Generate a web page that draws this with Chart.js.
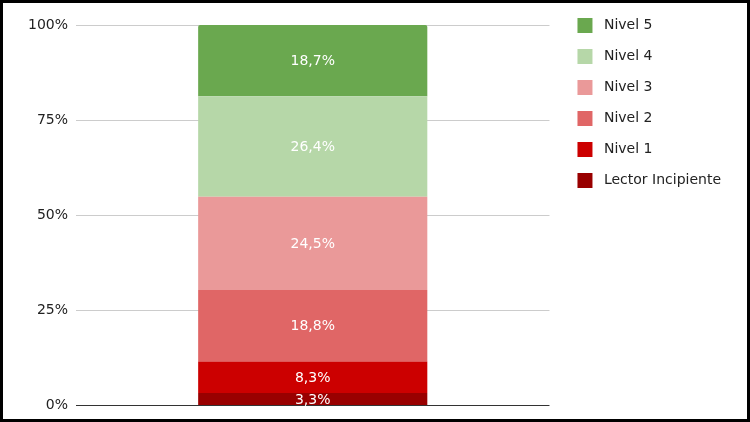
<!DOCTYPE html>
<html>
<head>
<meta charset="utf-8">
<script src="https://cdn.jsdelivr.net/npm/chart.js@4/dist/chart.umd.min.js"></script>
<style>
  html, body { margin: 0; padding: 0; background: #fff; }
  #frame { position: relative; width: 750px; height: 422px; box-sizing: border-box; border: 3px solid #000; background: #fff; overflow: hidden; }
  #chart { display: block; position: absolute; left: 0; top: 0; }
</style>
</head>
<body>
<div id="frame"><canvas id="chart" width="744" height="419"></canvas></div>
<script>
// data
const categories = [''];
const levels = ['Lector Incipiente', 'Nivel 1', 'Nivel 2', 'Nivel 3', 'Nivel 4', 'Nivel 5'];
const shares = [3.3, 8.3, 18.8, 24.5, 26.4, 18.7];
const yTicks = [0, 25, 50, 75, 100];
const colors = ['#990000', '#cc0000', '#e06666', '#ea9999', '#b6d7a8', '#6aa84f'];

const FONT = '"DejaVu Sans", Verdana, sans-serif';

// white value labels in the middle of each segment
const segmentLabels = {
  id: 'segmentLabels',
  afterDatasetsDraw(chart){
    const ctx = chart.ctx;
    ctx.save();
    ctx.font = '14px ' + FONT;
    ctx.fillStyle = '#ffffff';
    ctx.textAlign = 'center';
    ctx.textBaseline = 'middle';
    chart.data.datasets.forEach((ds, i) => {
      const meta = chart.getDatasetMeta(i);
      meta.data.forEach((bar, j) => {
        const v = ds.data[j];
        const y = (bar.y + bar.base) / 2 + 1;
        ctx.fillText(v.toFixed(1).replace('.', ',') + '%', bar.x, y);
      });
    });
    ctx.restore();
  }
};

// move the legend: a small gap from the plot, and up to the top edge
const legendGap = {
  id: 'legendGap',
  afterLayout(chart){
    const lg = chart.legend;
    if (!lg) return;
    lg.left += 12; lg.right += 12;
    lg.top -= 23; lg.bottom -= 23;
  }
};

const datasets = levels.map((name, i) => ({
  label: name,
  data: [shares[i]],
  backgroundColor: colors[i],
  borderWidth: 0,
  borderRadius: i === levels.length - 1 ? { topLeft: 2, topRight: 2 } : 0,
  borderSkipped: false,
  categoryPercentage: 1,
  barPercentage: 0.484
}));

new Chart(document.getElementById('chart'), {
  type: 'bar',
  data: { labels: categories, datasets },
  options: {
    responsive: false,
    animation: false,
    layout: { padding: { top: 22, bottom: 0, left: 0, right: 28 } },
    plugins: {
      tooltip: { enabled: false },
      legend: {
        position: 'right',
        align: 'start',
        reverse: true,
        labels: {
          boxWidth: 15,
          boxHeight: 15,
          padding: 16,
          color: '#222',
          font: { family: FONT, size: 14 },
          generateLabels: chart => Chart.defaults.plugins.legend.labels.generateLabels(chart)
            .map(it => Object.assign(it, { text: ' ' + it.text }))
        }
      }
    },
    scales: {
      x: { stacked: true, display: false },
      y: {
        stacked: true,
        min: 0,
        max: 100,
        afterBuildTicks: s => { s.ticks = yTicks.map(v => ({ value: v })); },
        afterFit: s => { s.width = 73; },
        border: { display: false },
        grid: {
          drawTicks: false,
          color: c => c.tick && c.tick.value === 0 ? '#333333' : '#cccccc'
        },
        ticks: {
          padding: 8,
          color: '#222',
          font: { family: FONT, size: 14 },
          callback: v => v + '%'
        }
      }
    }
  },
  plugins: [segmentLabels, legendGap]
});
</script>
</body>
</html>
